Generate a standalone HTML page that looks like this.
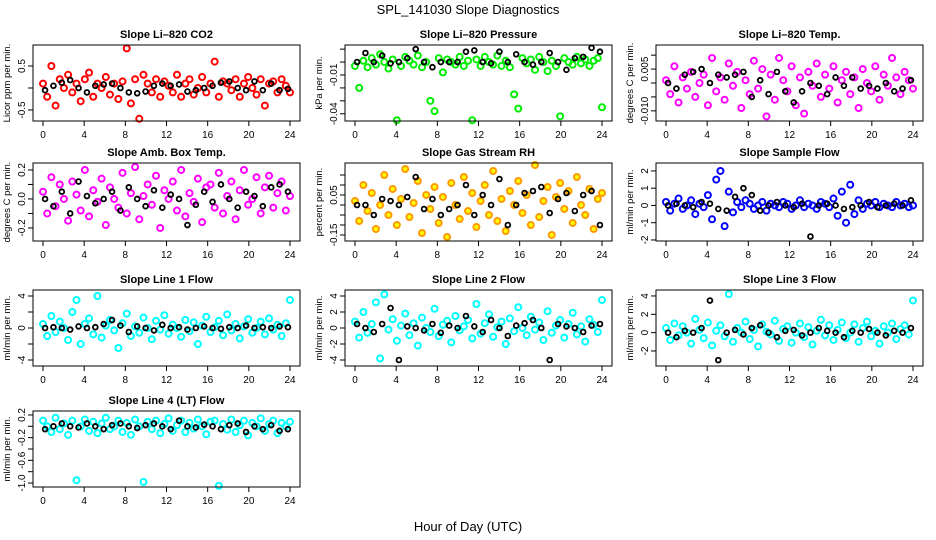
<!DOCTYPE html>
<html><head><meta charset="utf-8"><style>
body{margin:0;background:#fff;}
svg{display:block;font-family:"Liberation Sans",sans-serif;}
</style></head><body>
<svg id="chart" width="936" height="540" viewBox="0 0 936 540" xmlns="http://www.w3.org/2000/svg">
<text x="468" y="14" text-anchor="middle" font-size="13">SPL_141030  Slope Diagnostics</text>
<text x="468" y="531" text-anchor="middle" font-size="13">Hour of Day (UTC)</text>
<g id="panels"></g>
</svg>
<script>
// ---- data (hour categories and per-panel slope values) ----
const hourTicks = [0,4,8,12,16,20,24];
const co2Main = [0.1,-0.2,0.5,-0.4,0.2,0.0,0.3,-0.1,0.1,-0.3,0.2,0.35,-0.2,0.1,0.0,0.25,-0.15,0.1,-0.25,0.15,0.9,-0.35,0.2,-0.7,0.3,0.1,-0.1,0.2,-0.2,0.15,0.05,-0.1,0.3,-0.2,0.1,0.2,-0.15,0.0,0.25,-0.1,0.1,0.6,-0.2,0.15,0.1,-0.05,0.2,-0.2,0.1,0.25,0.0,-0.15,0.2,-0.4,0.1,0.15,-0.1,0.2,0.05,-0.1];
const co2Ref = [-0.05,0.05,0.12,0.18,0.0,-0.1,0.05,0.08,0.1,0.0,-0.1,-0.12,-0.08,0.05,0.1,0.05,0.08,-0.08,-0.05,0.0,0.05,0.12,0.15,0.0,-0.05,0.15,-0.05,0.1,-0.05,-0.02];
const presMain = [-0.003,-0.02,0.001,-0.004,0.003,-0.002,0.006,0.0,-0.005,0.002,-0.045,-0.003,0.004,0.001,-0.002,0.005,-0.004,0.0,-0.03,-0.038,0.003,-0.008,0.002,0.0,-0.002,0.004,-0.003,0.001,-0.045,0.002,-0.003,0.004,0.0,-0.002,0.005,-0.003,0.001,-0.004,-0.025,-0.036,0.003,-0.001,0.002,-0.006,0.004,0.0,-0.007,0.001,-0.003,-0.042,0.003,0.0,-0.002,0.004,-0.001,0.002,-0.003,0.001,0.003,-0.035];
const presRef = [0.0,0.007,0.0,0.005,-0.001,0.0,0.003,0.01,0.0,-0.004,0.0,0.0,0.0,0.008,0.009,0.0,-0.001,0.008,0.0,0.006,0.0,-0.002,0.0,0.007,0.0,-0.006,0.003,0.004,0.011,0.008];
const tempMain = [0.001,-0.004,0.006,-0.007,0.002,-0.002,0.004,-0.005,0.0,0.003,-0.008,0.009,-0.003,0.002,-0.006,0.007,-0.001,0.004,-0.009,0.001,-0.004,0.008,-0.002,0.005,-0.012,0.003,-0.006,0.009,0.001,-0.003,0.006,-0.008,0.002,-0.011,0.004,-0.001,0.007,-0.005,0.003,-0.002,0.006,-0.007,0.001,0.004,-0.004,0.002,-0.009,0.005,0.0,-0.003,0.006,-0.006,0.003,-0.001,0.009,0.002,-0.004,0.004,0.001,-0.002];
const tempRef = [0.0,-0.002,0.003,0.004,0.005,0.0,0.003,0.002,0.003,0.004,-0.005,0.001,-0.004,0.004,-0.003,-0.007,-0.003,0.0,-0.001,-0.004,0.002,-0.001,0.002,-0.002,-0.001,-0.002,0.0,-0.003,-0.002,0.001];
const ambMain = [0.05,-0.1,0.15,-0.05,0.1,0.0,-0.15,0.12,0.03,-0.08,0.2,-0.12,0.06,-0.02,0.14,-0.18,0.08,0.0,-0.06,0.18,-0.1,0.04,0.22,-0.14,0.02,0.1,-0.04,0.16,-0.2,0.06,0.0,0.12,-0.08,0.2,-0.12,0.04,-0.02,0.14,-0.16,0.08,0.1,-0.06,0.18,-0.1,0.02,0.12,-0.14,0.06,0.2,-0.04,0.0,0.15,-0.1,0.08,0.16,-0.06,0.04,0.12,-0.08,0.02];
const ambRef = [0.0,-0.05,0.05,-0.1,0.12,0.02,-0.03,0.0,0.05,-0.08,0.08,0.0,-0.05,0.06,-0.06,0.03,0.0,-0.18,-0.04,0.05,-0.02,0.1,0.0,-0.06,0.05,0.02,-0.05,0.08,0.1,0.05];
const rhMain = [0.02,-0.08,0.1,-0.03,0.06,-0.12,0.0,0.15,-0.05,0.08,-0.1,0.03,0.18,-0.06,0.01,0.12,-0.14,0.05,-0.02,0.09,-0.09,0.04,-0.16,0.11,0.0,-0.07,0.14,-0.03,0.06,-0.11,0.02,0.1,-0.05,0.17,-0.08,0.03,-0.13,0.07,0.0,0.12,-0.04,0.05,-0.1,0.2,-0.06,0.02,0.09,-0.15,0.04,0.11,-0.02,0.07,-0.09,0.14,0.0,-0.05,0.08,-0.12,0.03,0.06];
const rhRef = [0.0,0.0,-0.05,0.03,0.02,0.0,0.04,0.14,-0.02,0.03,-0.05,-0.02,0.0,0.1,-0.05,0.05,0.0,0.13,-0.1,0.0,0.06,0.07,0.09,-0.04,0.03,0.06,-0.03,0.05,0.07,-0.1];
const flowMain = [0.2,-0.3,0.1,0.4,-0.2,0.0,0.3,-0.5,0.1,-0.1,0.6,-0.8,1.5,2.0,-1.2,0.8,-0.4,0.2,-0.1,0.3,0.1,-0.2,0.0,0.2,-0.3,0.1,0.0,-0.1,0.2,0.1,-0.2,0.0,0.3,-0.1,0.1,0.0,-0.2,0.2,0.1,-0.1,0.4,-0.6,0.8,-1.0,1.2,-0.5,0.3,-0.2,0.1,0.0,0.2,-0.1,0.1,0.0,-0.1,0.2,0.0,0.1,-0.1,0.0];
const flowRef = [0.0,0.1,0.0,-0.1,0.2,0.1,-0.2,-0.3,0.5,1.0,0.6,-0.3,0.0,0.2,0.0,-0.1,0.1,-1.8,0.0,0.1,0.0,-0.2,-0.1,0.0,0.2,-0.1,0.0,0.1,0.0,0.3];
const line1Main = [0.5,-1.0,1.5,-0.5,0.8,0.0,-1.5,2.0,3.5,-2.0,0.5,1.2,-0.8,4.0,-1.2,0.3,1.0,-0.3,-2.5,0.6,1.8,-1.0,0.2,-0.6,1.3,0.0,-1.4,0.9,-0.2,1.6,-0.7,0.4,0.0,-1.1,1.0,-0.4,0.7,-2.0,0.3,1.4,-0.5,0.1,0.9,-0.9,1.7,-0.3,0.5,-1.3,0.2,1.1,-0.6,0.0,0.8,-0.8,1.2,-0.2,0.4,-1.0,0.6,3.5];
const line1Ref = [0.0,0.1,0.0,-0.2,0.2,0.0,0.1,0.5,1.0,0.3,-0.5,0.2,0.0,-0.3,0.4,0.0,0.1,-0.2,0.0,0.2,0.0,-0.1,0.1,0.0,0.3,0.0,0.1,0.0,0.2,0.1];
const line2Main = [0.8,-1.2,2.0,-0.6,0.5,3.2,-3.8,4.2,-0.2,1.1,-1.6,0.3,1.8,-0.9,0.6,-2.2,1.3,0.0,-0.5,2.4,-1.0,0.4,0.9,-1.8,1.5,-0.3,0.2,1.0,-1.3,3.0,-0.7,0.6,1.7,-1.1,0.1,0.8,-2.0,1.2,-0.4,2.6,0.0,-0.9,1.4,-0.2,0.7,-1.5,2.1,-0.6,0.3,1.0,-1.2,0.5,1.9,-0.8,0.2,-1.7,1.1,0.4,-0.5,3.5];
const line2Ref = [0.5,0.0,-0.5,0.5,2.5,-4.0,0.2,0.0,-0.3,0.5,-0.6,0.3,0.0,1.5,0.2,-0.5,1.0,0.0,-1.0,0.3,0.6,1.0,0.0,-4.0,0.5,0.2,0.0,-0.5,0.3,0.5];
const line3Main = [0.5,-0.8,1.0,-0.3,0.7,0.0,-1.2,1.5,0.3,-0.6,1.1,-1.4,0.2,0.8,-0.4,4.2,-1.0,0.5,0.0,1.2,-0.7,0.3,-1.5,0.9,0.1,-0.2,1.3,-0.9,0.4,0.7,-1.1,0.0,1.0,-0.5,0.6,-1.3,0.2,1.4,-0.3,0.8,-0.8,0.3,1.1,-0.6,0.0,0.9,-1.0,0.5,1.2,-0.4,0.2,-1.2,0.7,0.0,1.0,-0.7,0.4,0.8,-0.2,3.5];
const line3Ref = [0.0,-0.5,0.2,0.0,0.5,3.5,-3.0,0.0,0.3,-0.2,0.5,0.8,0.0,-0.5,0.2,0.3,-0.3,0.0,0.5,0.2,0.0,-0.5,0.2,0.0,0.4,0.0,-0.3,0.2,0.0,0.5];
const line4Main = [0.1,0.0,-0.1,0.15,-0.05,0.05,-0.15,0.1,-0.95,0.0,0.12,-0.08,0.08,-0.12,0.05,0.15,-0.05,0.0,0.1,-0.1,0.06,-0.15,0.12,0.0,-0.98,0.08,-0.05,0.1,-0.12,0.04,0.14,-0.08,0.02,0.1,-0.1,0.06,-0.04,0.12,0.0,-0.14,0.08,0.1,-1.05,0.04,-0.06,0.12,-0.1,0.02,0.1,-0.16,0.06,0.0,0.14,-0.08,0.04,0.1,-0.12,0.06,0.0,0.08];
const line4Ref = [-0.05,0.0,0.05,0.0,-0.02,0.05,0.0,-0.05,0.02,0.05,0.0,-0.03,0.02,0.05,0.0,-0.05,0.1,0.0,-0.02,0.03,0.0,-0.05,0.02,0.05,-0.1,0.0,-0.05,0.02,-0.08,-0.05];

const panels = [
 {name:'co2',title:'Slope Li\u2013820 CO2',ylab:'Licor ppm per min.',col:0,row:0,color:'#ff0000',main:co2Main,ref:co2Ref,ymin:-0.75,ymax:0.977,ticks:[-0.5,0,0.5],labels:['-0.5','','0.5']},
 {name:'pressure',title:'Slope Li\u2013820 Pressure',ylab:'kPa per min.',col:1,row:0,color:'#00ee00',main:presMain,ref:presRef,ymin:-0.0456,ymax:0.0132,ticks:[-0.04,-0.03,-0.02,-0.01,0,0.01],labels:['-0.04','','','-0.01','','']},
 {name:'temp',title:'Slope Li\u2013820 Temp.',ylab:'degrees C per min.',col:2,row:0,color:'#ff00ff',main:tempMain,ref:tempRef,ymin:-0.01365,ymax:0.01365,ticks:[-0.01,-0.005,0,0.005,0.01],labels:['-0.010','','','0.005','']},
 {name:'amb-box-temp',title:'Slope Amb. Box Temp.',ylab:'degrees C per min.',col:0,row:1,color:'#ff00ff',main:ambMain,ref:ambRef,ymin:-0.29,ymax:0.248,ticks:[-0.2,-0.1,0,0.1,0.2],labels:['-0.2','','0.0','','0.2']},
 {name:'gas-stream-rh',title:'Slope Gas Stream RH',ylab:'percent per min.',col:1,row:1,color:'#ff9900',fill:'#ffff00',main:rhMain,ref:rhRef,ymin:-0.18,ymax:0.21,ticks:[-0.15,-0.1,-0.05,0,0.05,0.1,0.15],labels:['-0.15','','','','0.05','','']},
 {name:'sample-flow',title:'Slope Sample Flow',ylab:'ml/min per min.',col:2,row:1,color:'#0000ff',main:flowMain,ref:flowRef,ymin:-2.06,ymax:2.46,ticks:[-2,-1,0,1,2],labels:['-2','-1','0','1','2']},
 {name:'line1-flow',title:'Slope Line 1 Flow',ylab:'ml/min per min.',col:0,row:2,color:'#00ffff',main:line1Main,ref:line1Ref,ymin:-4.75,ymax:4.75,ticks:[-4,-2,0,2,4],labels:['-4','','0','','4']},
 {name:'line2-flow',title:'Slope Line 2 Flow',ylab:'ml/min per min.',col:1,row:2,color:'#00ffff',main:line2Main,ref:line2Ref,ymin:-4.75,ymax:4.75,ticks:[-4,-2,0,2,4],labels:['-4','-2','0','2','4']},
 {name:'line3-flow',title:'Slope Line 3 Flow',ylab:'ml/min per min.',col:2,row:2,color:'#00ffff',main:line3Main,ref:line3Ref,ymin:-3.64,ymax:4.65,ticks:[-2,0,2,4],labels:['-2','0','2','4']},
 {name:'line4-flow',title:'Slope Line 4 (LT) Flow',ylab:'ml/min per min.',col:0,row:3,color:'#00ffff',main:line4Main,ref:line4Ref,ymin:-1.07,ymax:0.27,ticks:[-1,-0.8,-0.6,-0.4,-0.2,0,0.2],labels:['-1.0','','-0.6','','-0.2','','0.2']}
];
const colLeft=[33,345,656], boxW=267;
const rowTop=[45,163,290,411], rowBot=[121,241,366,487];
const NS='http://www.w3.org/2000/svg';
const root=document.getElementById('panels');
function mk(tag,attrs,parent){const e=document.createElementNS(NS,tag);for(const k in attrs)e.setAttribute(k,attrs[k]);parent.appendChild(e);return e;}
panels.forEach(p=>{
  const L=colLeft[p.col],R=L+boxW,T=rowTop[p.row],B=rowBot[p.row];
  const xs=h=>L+10+h*(boxW-20)/24;
  const ys=v=>B-(v-p.ymin)/(p.ymax-p.ymin)*(B-T);
  const g=mk('g',{},root);
  
  
  const t=mk('text',{x:(L+R)/2,y:T-7,'text-anchor':'middle','font-size':11,'font-weight':'bold'},g);t.textContent=p.title;
  
  
  const yl=mk('text',{x:0,y:0,transform:`translate(${L-23},${(T+B)/2}) rotate(-90)`,'text-anchor':'middle','font-size':9.5},g);yl.textContent=p.ylab;
  
  
  const pts=mk('g',{},g);
  
  
  p.main.forEach((v,i)=>{const h=i*24/(p.main.length-1);
    const c=mk('circle',{cx:xs(h),cy:ys(v),r:3,fill:p.fill||'none',stroke:p.color,'stroke-width':2},pts);
    
    
  });
  p.ref.forEach((v,i)=>{const h=0.2+i*23.6/(p.ref.length-1);
    const c=mk('circle',{cx:xs(h),cy:ys(v),r:2.4,fill:'none',stroke:'#000','stroke-width':1.8},pts);
    
    
  });
  const box=mk('rect',{x:L,y:T,width:boxW,height:B-T,fill:'none',stroke:'#000','stroke-width':1},g);
  
  
  hourTicks.forEach(h=>{
    mk('line',{x1:xs(h),x2:xs(h),y1:B,y2:B+5,stroke:'#000'},g);
    const tx=mk('text',{x:xs(h),y:B+17,'text-anchor':'middle','font-size':10},g);tx.textContent=h;
    
    
  });
  p.ticks.forEach((v,i)=>{
    mk('line',{x1:L,x2:L-5,y1:ys(v),y2:ys(v),stroke:'#000'},g);
    if(p.labels[i]){const ty=mk('text',{x:0,y:0,transform:`translate(${L-8},${ys(v)}) rotate(-90)`,'text-anchor':'middle','font-size':10},g);ty.textContent=p.labels[i];
      
      }
  });
});
</script>
</body></html>
